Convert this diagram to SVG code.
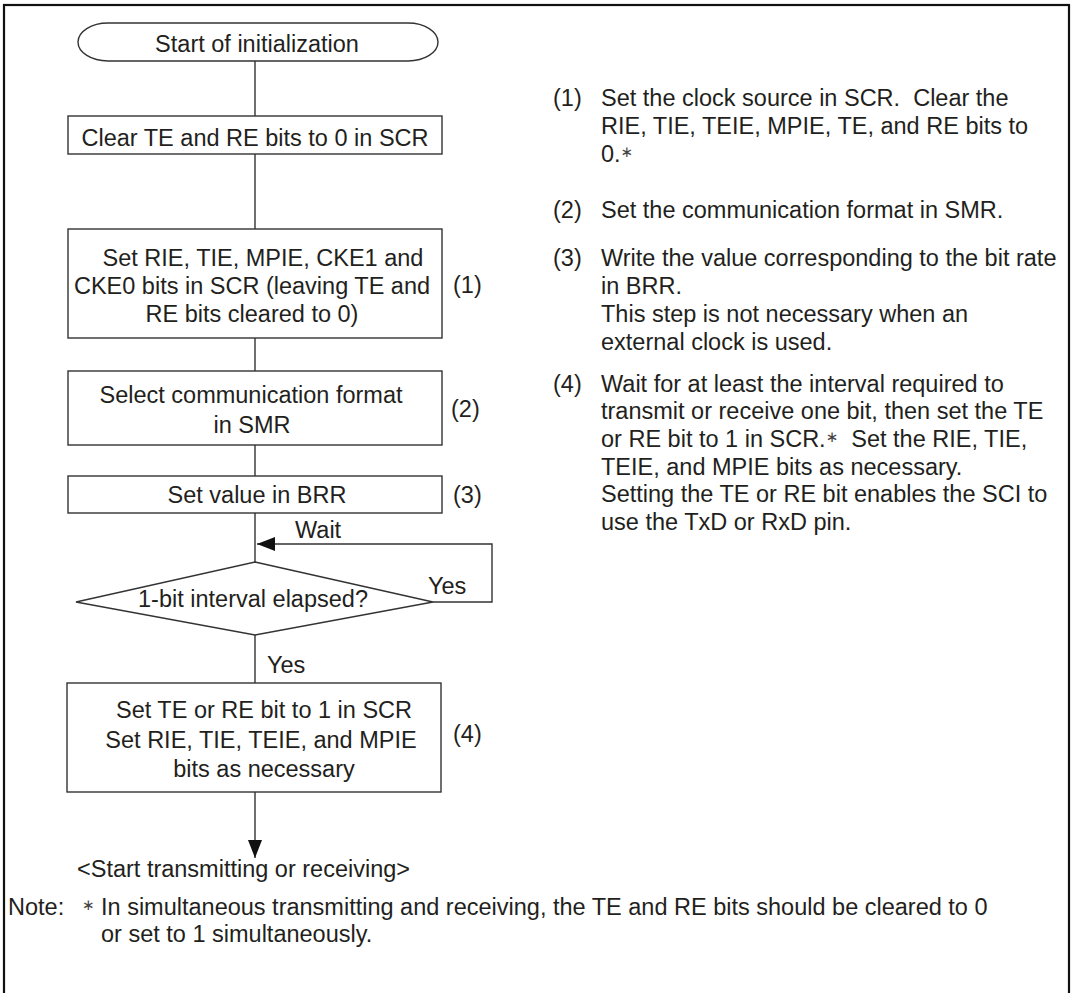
<svg xmlns="http://www.w3.org/2000/svg" width="1073" height="993" viewBox="0 0 1073 993">
<style>
text{font-family:"Liberation Sans",Arial,sans-serif;font-size:23.5px;fill:#231f20;white-space:pre}
.c{text-anchor:middle}
.ast{font-family:"DejaVu Sans",sans-serif;font-size:15px;fill:#444}
.box{fill:#fff;stroke:#333;stroke-width:1.4}
.ln{fill:none;stroke:#333;stroke-width:1.4}
</style>
<defs>
<marker id="ah" markerWidth="18" markerHeight="14" refX="18" refY="7" orient="auto" markerUnits="userSpaceOnUse">
<path d="M0,0 L18,7 L0,14 Z" fill="#111"/>
</marker>
</defs>
<rect x="0" y="0" width="1073" height="993" fill="#fff"/>
<rect id="frame" x="4" y="5" width="1065" height="1000" fill="none" stroke="#111" stroke-width="2.2"/>

<g id="connectors">
<line class="ln" x1="255" y1="61" x2="255" y2="116"/>
<line class="ln" x1="255" y1="154" x2="255" y2="229"/>
<line class="ln" x1="255" y1="338" x2="255" y2="371"/>
<line class="ln" x1="255" y1="445" x2="255" y2="476"/>
<line class="ln" x1="255" y1="513" x2="255" y2="562"/>
<polyline class="ln" points="433,602 492,602 492,544 257,544" marker-end="url(#ah)"/>
<line class="ln" x1="255" y1="635" x2="255" y2="683"/>
<line class="ln" x1="255" y1="792" x2="255" y2="858" marker-end="url(#ah)"/>
<text x="295" y="538">Wait</text>
<text x="428" y="594">Yes</text>
<text x="267" y="673">Yes</text>
</g>

<g id="start">
<rect class="box" x="78" y="23" width="360" height="38" rx="30" ry="19"/>
<text class="c" x="257" y="52">Start of initialization</text>
</g>

<g id="clear">
<rect class="box" x="68" y="116" width="374" height="38"/>
<text class="c" x="255" y="146">Clear TE and RE bits to 0 in SCR</text>
</g>

<g id="setscr">
<rect class="box" x="68" y="229" width="374" height="109"/>
<text class="c" x="263" y="266">Set RIE, TIE, MPIE, CKE1 and</text>
<text class="c" x="252" y="294">CKE0 bits in SCR (leaving TE and</text>
<text class="c" x="252" y="322">RE bits cleared to 0)</text>
<text x="453" y="293">(1)</text>
</g>

<g id="smr">
<rect class="box" x="68" y="371" width="374" height="74"/>
<text class="c" x="251" y="403">Select communication format</text>
<text class="c" x="252" y="433">in SMR</text>
<text x="451" y="417">(2)</text>
</g>

<g id="brr">
<rect class="box" x="68" y="476" width="374" height="37"/>
<text class="c" x="257" y="503">Set value in BRR</text>
<text x="453" y="503">(3)</text>
</g>

<g id="decision">
<polygon class="box" points="255,562 433,602 255,635 76,602"/>
<text class="c" x="253" y="607">1-bit interval elapsed?</text>
</g>

<g id="sette">
<rect class="box" x="67" y="683" width="374" height="109"/>
<text class="c" x="264" y="718">Set TE or RE bit to 1 in SCR</text>
<text class="c" x="261" y="748">Set RIE, TIE, TEIE, and MPIE</text>
<text class="c" x="264" y="777">bits as necessary</text>
<text x="453" y="742">(4)</text>
</g>

<g id="end">
<text x="77" y="877">&lt;Start transmitting or receiving&gt;</text>
</g>

<g id="notes">
<text x="553" y="106">(1)</text>
<text x="601" y="106" xml:space="preserve">Set the clock source in SCR.  Clear the</text>
<text x="601" y="134">RIE, TIE, TEIE, MPIE, TE, and RE bits to</text>
<text x="601" y="162">0.<tspan class="ast" dy="-5">∗</tspan></text>
<text x="553" y="218">(2)</text>
<text x="601" y="218">Set the communication format in SMR.</text>
<text x="553" y="266">(3)</text>
<text x="601" y="266">Write the value corresponding to the bit rate</text>
<text x="601" y="294">in BRR.</text>
<text x="601" y="322">This step is not necessary when an</text>
<text x="601" y="350">external clock is used.</text>
<text x="553" y="392">(4)</text>
<text x="601" y="392">Wait for at least the interval required to</text>
<text x="601" y="419">transmit or receive one bit, then set the TE</text>
<text x="601" y="447" xml:space="preserve">or RE bit to 1 in SCR.<tspan class="ast" dy="-5">∗</tspan><tspan dy="5">  Set the RIE, TIE,</tspan></text>
<text x="601" y="475">TEIE, and MPIE bits as necessary.</text>
<text x="601" y="502">Setting the TE or RE bit enables the SCI to</text>
<text x="601" y="530">use the TxD or RxD pin.</text>
</g>

<g id="footnote">
<text x="8" y="915">Note:</text>
<text class="ast" x="82" y="910">∗</text>
<text x="101" y="915">In simultaneous transmitting and receiving, the TE and RE bits should be cleared to 0</text>
<text x="101" y="942">or set to 1 simultaneously.</text>
</g>
</svg>
